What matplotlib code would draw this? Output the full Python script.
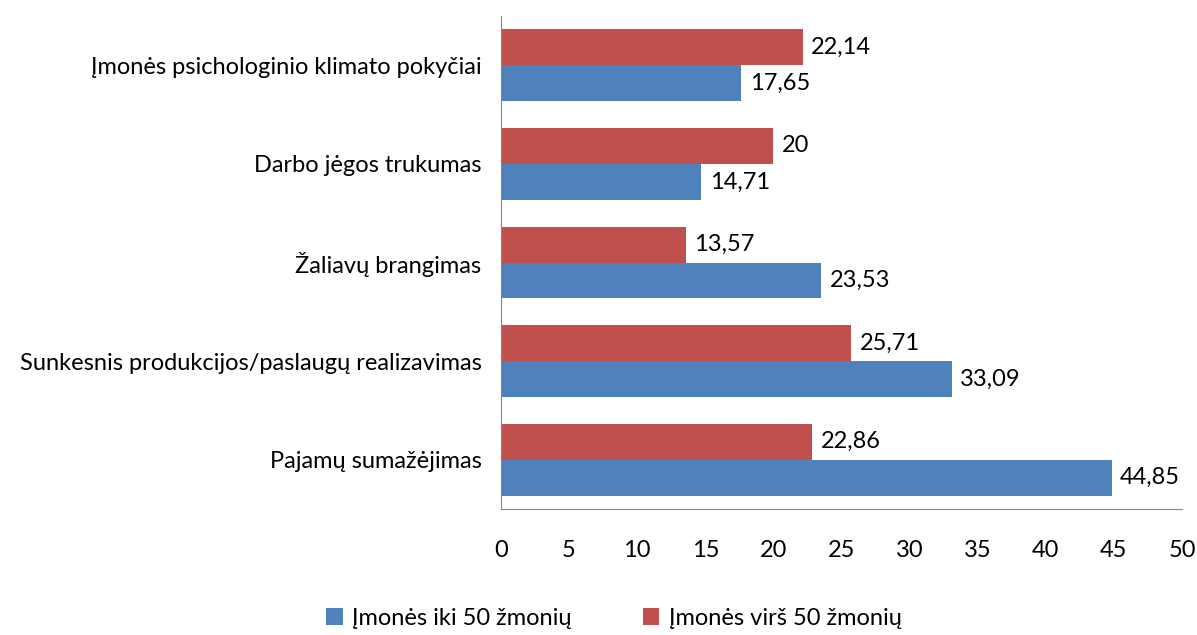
import matplotlib.pyplot as plt
import numpy as np

plt.rcParams['font.family'] = ['Lato', 'DejaVu Sans']

kategorijos = ["Pajamų sumažėjimas",
               "Sunkesnis produkcijos/paslaugų realizavimas",
               "Žaliavų brangimas",
               "Darbo jėgos trukumas",
               "Įmonės psichologinio klimato pokyčiai"]
iki_50 = [44.85, 33.09, 23.53, 14.71, 17.65]
virs_50 = [22.86, 25.71, 13.57, 20, 22.14]
serijos = ["Įmonės iki 50 žmonių", "Įmonės virš 50 žmonių"]

def fmt(v):
    return ("%g" % v).replace(".", ",")

fig = plt.figure(figsize=(11.97, 6.35), dpi=100)
ax = fig.add_axes([0.4185, 0.1984, 0.569, 0.7764])

y = np.arange(len(kategorijos))
h = 0.365
b1 = ax.barh(y - h / 2, iki_50, height=h, color="#4F81BD", label=serijos[0])
b2 = ax.barh(y + h / 2, virs_50, height=h, color="#C0504D", label=serijos[1])

for bars, vals in ((b1, iki_50), (b2, virs_50)):
    for bar, v in zip(bars, vals):
        ax.annotate(fmt(v), (v, bar.get_y() + bar.get_height() / 2),
                    xytext=(6, 0), textcoords="offset points",
                    va="center", ha="left", fontsize=17)

ax.set_xlim(0, 50)
ax.set_ylim(-0.5, len(kategorijos) - 0.5)
ax.set_xticks(range(0, 51, 5))
ax.set_yticks(y)
ax.set_yticklabels(kategorijos)
ax.tick_params(axis="both", length=0, labelsize=17)
ax.tick_params(axis="x", pad=22)
ax.tick_params(axis="y", pad=14)
for s in ("top", "right"):
    ax.spines[s].set_visible(False)
for s in ("left", "bottom"):
    ax.spines[s].set_color("#868686")

fig.legend(handles=[b1, b2], loc="center", bbox_to_anchor=(0.513, 0.026),
           ncol=2, frameon=False, fontsize=17, handlelength=0.7, handleheight=0.7,
           columnspacing=3.0, handletextpad=0.4)

fig.savefig("out.png", dpi=100)
